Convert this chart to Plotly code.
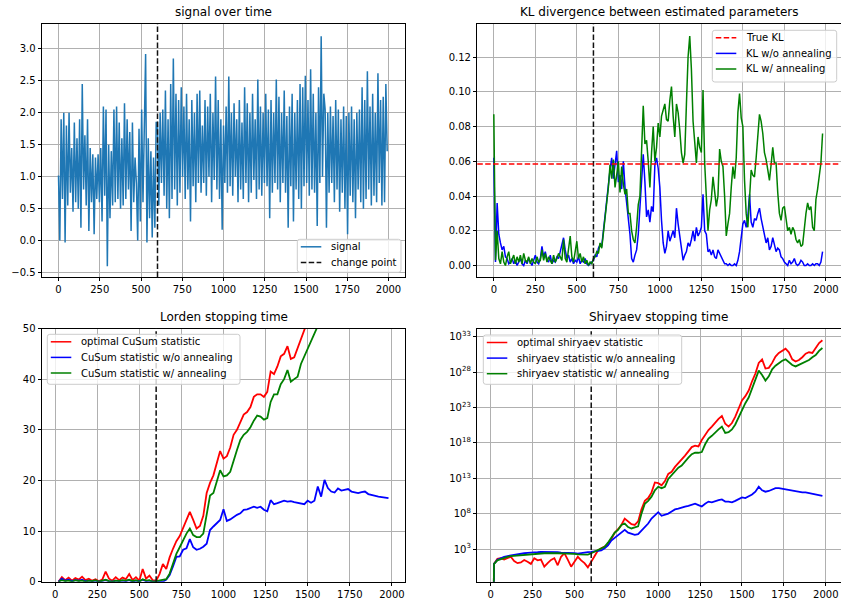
import plotly.graph_objects as go

# ---------------- data ----------------
CHANGE_POINT = 600
TRUE_KL = 0.0585

SIGNAL_STEP = 8
signal = [
    # 0 .. 592 (before change)
    1.02, -0.0, 1.9, 0.65, 2.0, -0.03, 1.8, 0.55, 2.0, 0.75,
    1.45, 0.45, 1.85, 0.6, 1.6, 0.5, 1.9, 0.2, 2.45, 0.8,
    1.65, 0.55, 1.9, 0.15, 1.45, 0.6, 1.35, 0.1, 1.3, 0.65,
    1.35, 0.6, 1.45, 0.3, 2.1, 0.7, 2.05, -0.4, 1.5, 0.35,
    1.4, 0.55, 2.05, 0.6, 2.1, 0.65, 1.85, 0.5, 1.6, 0.55,
    2.15, 0.65, 1.9, 0.8, 1.7, 0.15, 1.85, 0.6, 1.3, 0.9,
    0.0, 1.75, 0.3, 2.05, 0.6, 2.1, 2.92, -0.03, 1.6, 0.35,
    1.4, 0.05, 1.3, 0.2, 1.85,
    # 600 .. 1992 (after change)
    1.85, 0.55, 2.0, 0.9, 2.05, 0.7, 2.35, 0.5, 1.9, 0.35,
    2.45, 0.65, 2.85, 0.8, 2.3, 0.55, 2.2, 0.75, 2.4, 1.0,
    2.1, 0.65, 2.3, 0.8, 1.9, 0.3, 2.2, 0.85, 2.0, 0.6,
    2.3, 0.9, 2.35, 0.75, 1.8, 0.9, 2.2, 0.7, 2.1, 1.0,
    2.3, 0.6, 2.0, 0.95, 2.57, 0.8, 2.2, 0.65, 1.9, 0.17,
    1.8, 0.9, 2.1, 0.75, 2.57, 0.85, 2.0, 0.7, 2.15, 1.0,
    1.9, 0.6, 2.2, 0.8, 1.85, 0.65, 2.4, 0.9, 2.15, 0.6,
    2.0, 0.75, 2.3, 0.95, 1.9, 0.65, 2.52, 0.8, 2.1, 0.7,
    2.0, 0.9, 2.3, 0.85, 2.05, 0.35, 2.2, 0.75, 2.0, 0.9,
    2.52, 0.8, 2.25, 0.6, 2.0, 0.9, 2.35, 0.75, 1.95, 0.2,
    2.1, 0.85, 2.3, 0.3, 2.0, 0.8, 2.2, 0.65, 2.45, 0.5,
    2.4, 0.85, 2.58, 0.9, 2.2, 0.7, 2.68, 0.8, 2.3, 0.75,
    2.0, 0.23, 2.4, 0.9, 3.2, 1.0, 2.3, 2.05, 0.2, 2.0,
    0.75, 2.1, 0.9, 1.95, 0.6, 2.2, 0.8, 2.05, 0.45, 1.9,
    0.75, 2.1, 0.5, 1.95, 0.1, 2.0, 0.7, 2.1, 0.6, 1.9,
    0.35, 2.0, 0.8, 2.05, 0.6, 2.4, 0.5, 2.2, 0.65, 2.65,
    0.8, 2.1, 0.55, 2.3, 0.7, 2.0, 0.6, 2.62, 0.9, 2.2,
    0.55, 2.25, 0.6, 2.45, 1.4,
]

KL_STEP = 10
kl_no_anneal = [
    0.062, 0.002, 0.036, 0.018, 0.013, 0.009, 0.011, 0.005, 0.004, 0.001,
    0.002, 0.004, 0.001, 0.003, 0.0, 0.002, 0.004, 0.001, 0.0, 0.003,
    0.001, 0.004, 0.002, 0.0, 0.003, 0.006, 0.002, 0.001, 0.004, 0.011,
    0.005, 0.008, 0.003, 0.002, 0.006, 0.001, 0.003, 0.002, 0.005, 0.004,
    0.008, 0.013, 0.016, 0.009, 0.004, 0.006, 0.002, 0.004, 0.001, 0.003,
    0.002, 0.005, 0.001, 0.003, 0.002, 0.004, 0.001, 0.0, 0.001, 0.002,
    0.003, 0.006, 0.005, 0.010, 0.012, 0.011, 0.020, 0.029, 0.038, 0.049,
    0.055, 0.062, 0.050, 0.058, 0.066, 0.048, 0.052, 0.044, 0.060, 0.045,
    0.036, 0.028, 0.018, 0.004, 0.002, 0.006, 0.009, 0.018, 0.033, 0.050,
    0.064, 0.048, 0.028, 0.032, 0.025, 0.034, 0.031, 0.058, 0.062, 0.056,
    0.045, 0.026, 0.013, 0.007, 0.011, 0.020, 0.014, 0.017, 0.020, 0.016,
    0.033, 0.024, 0.016, 0.008, 0.003, 0.006, 0.008, 0.013, 0.011, 0.015,
    0.020, 0.014, 0.022, 0.017, 0.019, 0.022, 0.041, 0.020, 0.018, 0.008,
    0.009, 0.006, 0.009, 0.005, 0.004, 0.009, 0.007, 0.005, 0.003, 0.001,
    0.001, 0.0, 0.001, 0.0, 0.0, 0.001, 0.0, 0.003, 0.008, 0.017,
    0.024, 0.026, 0.022, 0.028, 0.041, 0.025, 0.022, 0.027, 0.026, 0.030,
    0.033, 0.027, 0.022, 0.018, 0.013, 0.016, 0.009, 0.011, 0.016, 0.012,
    0.008, 0.010, 0.009, 0.005, 0.004, 0.002, 0.001, 0.0, 0.003, 0.001,
    0.002, 0.004, 0.001, 0.0, 0.001, 0.003, 0.002, 0.0, 0.0, 0.001,
    0.0, 0.0, 0.001, 0.0, 0.001, 0.001, 0.0, 0.002, 0.008,
]
kl_anneal = [
    0.087, 0.003, 0.020, 0.004, 0.001, 0.008, 0.002, 0.0, 0.005, 0.008,
    0.001, 0.004, 0.006, 0.001, 0.005, 0.002, 0.006, 0.001, 0.007, 0.003,
    0.002, 0.005, 0.001, 0.004, 0.002, 0.001, 0.005, 0.002, 0.003, 0.009,
    0.003, 0.007, 0.002, 0.005, 0.003, 0.001, 0.006, 0.002, 0.004, 0.007,
    0.005, 0.003, 0.015, 0.004, 0.002, 0.009, 0.017, 0.005, 0.002, 0.008,
    0.014, 0.004, 0.007, 0.002, 0.005, 0.001, 0.003, 0.0, 0.002, 0.001,
    0.004, 0.005, 0.008, 0.007, 0.013, 0.010, 0.019, 0.027, 0.033, 0.045,
    0.058, 0.050, 0.061, 0.045, 0.052, 0.060, 0.042, 0.057, 0.047, 0.041,
    0.044, 0.030, 0.030, 0.020, 0.015, 0.013, 0.022, 0.035, 0.040, 0.065,
    0.092, 0.070, 0.072, 0.060, 0.045, 0.065, 0.080, 0.060, 0.068, 0.082,
    0.074, 0.086, 0.090, 0.093, 0.084, 0.083, 0.095, 0.103, 0.086, 0.074,
    0.093, 0.088, 0.078, 0.065, 0.059, 0.064, 0.093, 0.120, 0.132, 0.113,
    0.083, 0.070, 0.059, 0.074, 0.068, 0.065, 0.101, 0.059, 0.040, 0.020,
    0.032, 0.038, 0.051, 0.044, 0.034, 0.040, 0.067, 0.060, 0.057, 0.040,
    0.017, 0.024, 0.030, 0.045, 0.057, 0.050, 0.062, 0.088, 0.099, 0.085,
    0.080, 0.049, 0.030, 0.022, 0.040, 0.055, 0.052, 0.051, 0.062, 0.078,
    0.087, 0.083, 0.076, 0.065, 0.061, 0.055, 0.049, 0.058, 0.068, 0.059,
    0.059, 0.042, 0.030, 0.026, 0.033, 0.034, 0.028, 0.020, 0.022, 0.018,
    0.022, 0.020, 0.015, 0.013, 0.015, 0.011, 0.012, 0.022, 0.030, 0.036,
    0.032, 0.034, 0.022, 0.020, 0.038, 0.044, 0.051, 0.059, 0.076,
]

LORDEN_START = 20
LORDEN_STEP = 20
cusum_optimal = [
    0.0, 0.9, 0.3, 0.8, 0.2, 0.7, 0.4, 1.0, 0.3, 0.6,
    0.2, 0.5, 0.1, 0.4, 2.0, 0.6, 0.2, 0.9, 0.3, 0.8,
    0.5, 1.5, 0.3, 0.9, 0.2, 2.5, 0.6, 1.2, 0.3, 0.2,
    1.5, 3.5, 2.5, 4.8, 6.5, 8.0, 9.0, 10.5, 12.0, 13.8,
    12.2, 10.5, 11.0, 13.0, 17.5, 19.5, 21.0, 23.5, 25.8, 24.3,
    24.8, 26.5, 29.0, 30.0, 31.5, 33.0, 33.5, 34.5, 36.5, 37.0,
    37.0, 36.5, 37.5, 41.5, 41.0, 42.5, 44.5, 45.0, 46.5, 44.0,
    44.3, 46.0, 48.0, 49.8, 51.5,
]
cusum_no_anneal = [
    0.0, 0.6, 0.2, 0.4, 0.1, 0.3, 0.2, 0.4, 0.1, 0.2,
    0.1, 0.2, 0.0, 0.2, 0.3, 0.1, 0.0, 0.2, 0.1, 0.2,
    0.1, 0.3, 0.0, 0.2, 0.1, 0.4, 0.1, 0.2, 0.0, 0.0,
    0.0, 0.0, 0.4, 1.3, 3.0, 4.9, 5.0, 6.3, 6.6, 8.4,
    6.8, 6.3, 6.5, 6.9, 7.5, 10.2, 10.9, 11.6, 12.2, 14.3,
    12.0, 12.3, 12.8, 13.2, 13.5, 14.2, 14.3, 14.5, 14.8, 14.6,
    14.8, 14.2, 13.9, 16.1, 15.3, 15.5, 15.8, 16.0, 15.8, 15.9,
    15.7, 15.6, 15.4, 15.3, 16.0, 15.6, 16.0, 18.8, 16.8, 20.1,
    18.5, 17.8, 17.6, 18.4, 18.0, 18.1, 18.3, 17.8, 17.6, 17.5,
    17.7, 17.8, 17.3, 17.1, 17.0, 16.8, 16.7, 16.6, 16.5,
]
cusum_anneal = [
    0.0, 0.3, 0.1, 0.2, 0.0, 0.3, 0.1, 0.2, 0.0, 0.2,
    0.1, 0.3, 0.0, 0.2, 0.4, 0.1, 0.0, 0.2, 0.1, 0.3,
    0.2, 0.4, 0.1, 0.3, 0.0, 0.5, 0.2, 0.3, 0.0, 0.1,
    0.2, 0.3, 0.5, 1.6, 3.5, 5.5, 6.8, 8.2, 9.5, 10.5,
    9.2, 8.8, 8.8, 9.5, 13.0, 17.0, 17.5, 20.0, 22.0, 20.8,
    21.0, 21.7, 24.0, 26.0, 28.0, 29.0, 29.6, 30.5, 31.8, 32.8,
    32.6, 32.0, 32.3, 35.5, 37.0, 37.0, 39.0, 40.0, 41.8, 39.5,
    40.0, 40.5, 43.0, 44.5, 46.0, 47.8, 49.0, 50.5,
]

SHIR_X = [18] + list(range(20, 2000, 20))
shir_optimal_log10 = [
    -3.0,
    0.9, 1.6, 1.7, 1.5, 1.75, 1.9, 1.3, 1.0, 1.1, 1.45,
    1.2, 0.9, 1.7, 1.4, 1.5, 0.5, 1.0, 1.45, 1.7, 0.7,
    1.9, 2.4, 1.5, 0.5, 1.2, 1.9, 1.4, 1.0, 0.4, 1.2,
    2.0, 2.8, 3.1, 3.3, 3.6, 4.4, 5.3, 5.8, 6.4, 7.3,
    6.9, 6.5, 6.4, 6.9, 8.6, 9.8, 10.2, 11.0, 12.4, 12.3,
    12.0, 12.6, 13.6, 13.9, 14.6, 15.1, 15.6, 16.2, 16.8, 17.4,
    17.6, 17.5, 18.4, 19.2, 19.8, 20.3, 20.9, 21.4, 21.8, 20.7,
    20.3, 20.8, 21.7, 22.9, 24.0, 24.6, 25.4, 26.7, 27.8, 29.3,
    29.8, 28.5, 28.6, 29.3, 30.2, 30.7, 31.0, 31.3, 30.8, 29.8,
    29.5, 29.7, 30.1, 30.6, 30.8, 30.7, 31.4, 32.1, 32.5,
]
shir_no_anneal_log10 = [
    -3.0,
    0.9, 1.5, 1.75, 1.9, 2.0, 2.1, 2.2, 2.3, 2.35, 2.4,
    2.45, 2.45, 2.5, 2.55, 2.6, 2.6, 2.65, 2.6, 2.55, 2.55,
    2.5, 2.5, 2.45, 2.4, 2.4, 2.35, 2.45, 2.5, 2.55, 2.6,
    2.7, 2.75, 2.8, 3.1, 3.5, 4.2, 4.6, 5.0, 5.4, 5.7,
    5.3, 5.1, 5.0, 5.1, 5.6, 6.2, 6.6, 7.3, 7.8, 8.2,
    7.7, 7.8, 8.0, 8.3, 8.6, 8.7, 8.9, 9.0, 9.1, 9.2,
    9.4, 9.2, 9.0, 9.4, 9.7, 9.6, 9.8, 9.9, 10.0, 9.7,
    9.7, 9.6, 9.8, 10.1, 10.3, 10.2, 10.4, 10.7, 11.1, 11.8,
    11.3, 11.1, 11.2, 11.4, 11.6, 11.6, 11.5, 11.4, 11.3, 11.3,
    11.2, 11.1, 11.0, 11.0, 10.9, 10.8, 10.7, 10.6, 10.5,
]
shir_anneal_log10 = [
    -3.0,
    0.9, 1.4, 1.6, 1.8, 1.9, 2.0, 2.05, 2.1, 2.15, 2.2,
    2.2, 2.25, 2.3, 2.3, 2.35, 2.4, 2.4, 2.45, 2.4, 2.4,
    2.4, 2.35, 2.35, 2.3, 2.3, 2.25, 2.2, 2.15, 2.2, 2.4,
    2.6, 2.9, 3.1, 3.3, 3.9, 4.6, 5.3, 5.7, 6.4, 6.6,
    6.1, 5.9, 6.0, 6.2, 8.0, 9.4, 9.8, 10.4, 11.3, 11.8,
    11.6, 11.8, 12.9, 13.4, 14.0, 14.5, 14.8, 15.4, 15.9, 16.4,
    16.6, 16.6, 16.7, 17.8, 18.6, 19.0, 19.5, 19.9, 20.3, 19.4,
    19.5, 19.9, 20.6, 21.6, 22.8, 23.6, 24.4, 25.6, 27.0, 28.2,
    27.6, 26.8, 27.4, 28.4, 28.9, 29.3, 29.6, 29.8, 29.4, 29.0,
    28.8, 29.0, 29.2, 29.4, 29.7, 30.1, 30.4, 31.0, 31.4,
]

titles = ["signal over time", "KL divergence between estimated parameters",
          "Lorden stopping time", "Shiryaev stopping time"]
legend_labels_signal = ["signal", "change point"]
legend_labels_kl = ["True KL", "KL w/o annealing", "KL w/ annealing"]
legend_labels_lorden = ["optimal CuSum statistic", "CuSum statistic w/o annealing",
                        "CuSum statistic w/ annealing"]
legend_labels_shir = ["optimal shiryaev statistic", "shiryaev statistic w/o annealing",
                      "shiryaev statistic w/ annealing"]
x_tick_vals = list(range(0, 2001, 250))
signal_y_ticks = [-0.5, 0.0, 0.5, 1.0, 1.5, 2.0, 2.5, 3.0]
kl_y_ticks = [0.0, 0.02, 0.04, 0.06, 0.08, 0.10, 0.12]
lorden_y_ticks = [0, 10, 20, 30, 40, 50]
shir_exponents = [3, 8, 13, 18, 23, 28, 33]

# ---------------- figure ----------------
W, H = 841, 604
FONT = "DejaVu Sans"
RED, BLUE, GREEN, SIGBLUE, BLACK = "#ff0000", "#0000ff", "#008000", "#1f77b4", "#111111"
DASH = "5.5px,2.4px"


def px_x(a, b):
    return [a / W, b / W]


def px_y(top, bottom):
    return [1 - bottom / H, 1 - top / H]


def xs(step, arr, start=0):
    return [start + step * i for i in range(len(arr))]


fig = go.Figure()

# panel 1: signal
fig.add_trace(go.Scatter(x=xs(SIGNAL_STEP, signal), y=signal, mode="lines",
                         line=dict(color=SIGBLUE, width=1.5), name=legend_labels_signal[0],
                         xaxis="x", yaxis="y"))
# panel 2: KL
fig.add_trace(go.Scatter(x=xs(KL_STEP, kl_no_anneal), y=kl_no_anneal, mode="lines",
                         line=dict(color=BLUE, width=1.5), name=legend_labels_kl[1],
                         xaxis="x2", yaxis="y2"))
fig.add_trace(go.Scatter(x=xs(KL_STEP, kl_anneal), y=kl_anneal, mode="lines",
                         line=dict(color=GREEN, width=1.5), name=legend_labels_kl[2],
                         xaxis="x2", yaxis="y2"))
# panel 3: Lorden
for arr, col, nm in [(cusum_optimal, RED, legend_labels_lorden[0]),
                     (cusum_no_anneal, BLUE, legend_labels_lorden[1]),
                     (cusum_anneal, GREEN, legend_labels_lorden[2])]:
    fig.add_trace(go.Scatter(x=xs(LORDEN_STEP, arr, LORDEN_START), y=arr, mode="lines",
                             line=dict(color=col, width=1.8), name=nm,
                             xaxis="x3", yaxis="y3"))
# panel 4: Shiryaev
for arr, col, nm in [(shir_optimal_log10, RED, legend_labels_shir[0]),
                     (shir_no_anneal_log10, BLUE, legend_labels_shir[1]),
                     (shir_anneal_log10, GREEN, legend_labels_shir[2])]:
    fig.add_trace(go.Scatter(x=SHIR_X, y=[10.0 ** v for v in arr], mode="lines",
                             line=dict(color=col, width=1.8), name=nm,
                             xaxis="x4", yaxis="y4"))

# change-point lines
for xr, yr in [("x", "y"), ("x2", "y2"), ("x3", "y3"), ("x4", "y4")]:
    fig.add_shape(type="line", xref=xr, yref=yr + " domain", x0=CHANGE_POINT, x1=CHANGE_POINT,
                  y0=0, y1=1, line=dict(color=BLACK, width=1.5, dash=DASH), layer="above")
# true KL line
fig.add_shape(type="line", xref="x2 domain", yref="y2", x0=0, x1=1, y0=TRUE_KL, y1=TRUE_KL,
              line=dict(color=RED, width=1.5, dash=DASH), layer="above")


# ---------- matplotlib-like legends (box + handles + real text) ----------
def add_legend(left, top, right, bottom, labels, colors, dashes, row0=7.5, row_gap=15.6):
    r = 2.5

    def P(x, y):
        return "%.5f,%.5f" % (x / W, 1 - y / H)

    path = ("M" + P(left + r, top) + " L" + P(right - r, top) +
            " Q" + P(right, top) + " " + P(right, top + r) +
            " L" + P(right, bottom - r) +
            " Q" + P(right, bottom) + " " + P(right - r, bottom) +
            " L" + P(left + r, bottom) +
            " Q" + P(left, bottom) + " " + P(left, bottom - r) +
            " L" + P(left, top + r) +
            " Q" + P(left, top) + " " + P(left + r, top) + " Z")
    fig.add_shape(type="path", xref="paper", yref="paper", path=path,
                  fillcolor="rgba(255,255,255,0.8)", line=dict(color="#cccccc", width=1),
                  layer="above")
    for i, (lab, col, dsh) in enumerate(zip(labels, colors, dashes)):
        yy = top + row0 + row_gap * i
        fig.add_shape(type="line", xref="paper", yref="paper",
                      x0=(left + 3.5) / W, x1=(left + 24) / W, y0=1 - yy / H, y1=1 - yy / H,
                      line=dict(color=col, width=1.5, dash=DASH if dsh else "solid"),
                      layer="above")
        fig.add_annotation(text=lab, xref="paper", yref="paper", x=(left + 32) / W,
                           y=1 - yy / H, xanchor="left", yanchor="middle", showarrow=False,
                           font=dict(family=FONT, size=10, color="#000000"))


add_legend(297.3, 239.3, 401, 272.3, legend_labels_signal, [SIGBLUE, BLACK], [False, True])
add_legend(712.3, 30.3, 836.7, 82, legend_labels_kl, [RED, BLUE, GREEN], [True, False, False])
add_legend(47.3, 334.3, 240, 384.3, legend_labels_lorden, [RED, BLUE, GREEN], [False] * 3)
add_legend(483.3, 335, 681.7, 384.3, legend_labels_shir, [RED, BLUE, GREEN], [False] * 3)

axis_common = dict(showline=True, mirror=True, linecolor="#000000", linewidth=0.8,
                   ticks="outside", ticklen=3.5, tickwidth=0.8, tickcolor="#000000",
                   showgrid=True, gridcolor="#b0b0b0", gridwidth=0.8, zeroline=False,
                   automargin=False,
                   tickfont=dict(family=FONT, size=10, color="#000000"))

TOP = px_y(24, 277)
BOT = px_y(328.5, 581.7)
LEFTX = px_x(42, 405)
RIGHTX = px_x(477.3, 840.5)

fig.update_layout(
    width=W, height=H, autosize=False,
    margin=dict(l=0, r=0, t=0, b=0, pad=0, autoexpand=False),
    paper_bgcolor="white", plot_bgcolor="white",
    font=dict(family=FONT, size=10, color="#000000"),
    showlegend=False,
    xaxis=dict(domain=LEFTX, anchor="y", range=[-100, 2100], tickvals=x_tick_vals, **axis_common),
    yaxis=dict(domain=TOP, anchor="x", range=[-0.57, 3.39], tickvals=signal_y_ticks,
               tickformat=".1f", **axis_common),
    xaxis2=dict(domain=RIGHTX, anchor="y2", range=[-99.5, 2088], tickvals=x_tick_vals, **axis_common),
    yaxis2=dict(domain=TOP, anchor="x2", range=[-0.0066, 0.139], tickvals=kl_y_ticks,
                tickformat=".2f", **axis_common),
    xaxis3=dict(domain=LEFTX, anchor="y3", range=[-78, 2078], tickvals=x_tick_vals, **axis_common),
    yaxis3=dict(domain=BOT, anchor="x3", range=[0, 50], tickvals=lorden_y_ticks, **axis_common),
    xaxis4=dict(domain=RIGHTX, anchor="y4", range=[-80, 2088], tickvals=x_tick_vals, **axis_common),
    yaxis4=dict(domain=BOT, anchor="x4", type="log", range=[-1.62, 34.16],
                tickvals=[10.0 ** e for e in shir_exponents],
                ticktext=["10<sup>%d</sup>" % e for e in shir_exponents], **axis_common),
)

for title, dom_x, dom_y in [(titles[0], LEFTX, TOP), (titles[1], RIGHTX, TOP),
                            (titles[2], LEFTX, BOT), (titles[3], RIGHTX, BOT)]:
    fig.add_annotation(text=title, xref="paper", yref="paper", x=(dom_x[0] + dom_x[1]) / 2,
                       y=dom_y[1], xanchor="center", yanchor="bottom", yshift=3,
                       showarrow=False, font=dict(family=FONT, size=12, color="#000000"))

fig.write_html("out.html", config={"displayModeBar": False},
               post_script="document.body.style.margin='0px';document.body.style.padding='0px';"
                           "document.documentElement.style.overflow='hidden';")
